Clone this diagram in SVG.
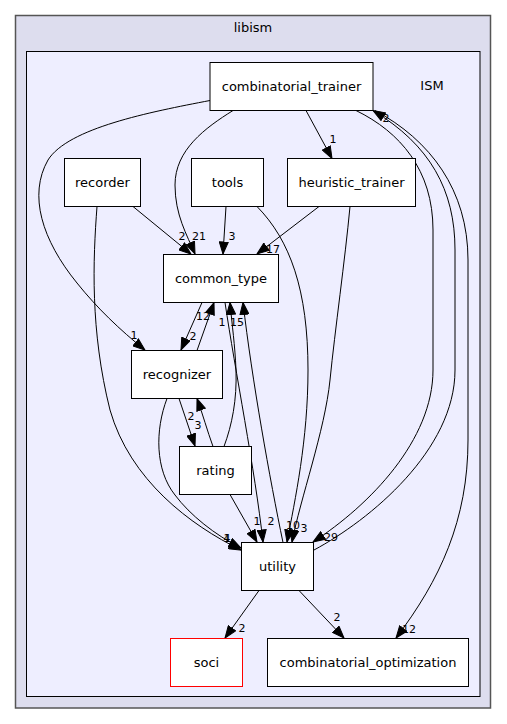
<svg xmlns="http://www.w3.org/2000/svg" width="507" height="724" viewBox="0 0 507 724">
<style>
.node rect{fill:#ffffff;stroke:#000000;stroke-width:1}
.node text{font-family:"DejaVu Sans",sans-serif;font-size:13px;text-anchor:middle;fill:#000}
.cl{font-family:"DejaVu Sans",sans-serif;font-size:13px;text-anchor:middle;fill:#000}
#edges path{fill:none;stroke:#000;stroke-width:1;marker-end:url(#ah)}
#edges text{font-family:"DejaVu Sans",sans-serif;font-size:11px;text-anchor:middle;fill:#000}
</style>
<defs>
<marker id="ah" markerUnits="userSpaceOnUse" markerWidth="13" markerHeight="10" viewBox="0 0 13 10" refX="12.5" refY="5" orient="auto">
<path d="M0.5,0.5 L12.5,5 L0.5,9.5 z" fill="#000" stroke="#000"/>
</marker>
</defs>
<rect width="507" height="724" fill="#ffffff"/>
<g id="cluster_libism">
<rect x="15.5" y="15.5" width="475" height="692.5" fill="#ddddee" stroke="#555555" stroke-width="1.5"/>
<text class="cl" x="253" y="32">libism</text>
</g>
<g id="cluster_ISM">
<rect x="26.5" y="51.5" width="453.5" height="645" fill="#eeeeff" stroke="#000000"/>
<text class="cl" x="432" y="90">ISM</text>
</g>
<g id="edges">
<path d="M210,100.5 C150,112 68,128 48,160 C28,195 42,240 77,283 C97,308 120,330 145,350"/>
<text x="134" y="339">1</text>
<path d="M233,110.5 C205,128 175,150 175,185 C175,215 187,235 195,254"/>
<text x="199" y="240">21</text>
<path d="M133,206.5 L191,254"/>
<text x="182" y="240">2</text>
<path d="M226,206.5 L223,254"/>
<text x="232" y="240">3</text>
<path d="M319,206.5 L257,254"/>
<text x="273" y="253">17</text>
<path d="M306,110.5 L332,158.5"/>
<text x="333" y="143">1</text>
<path d="M356,110.5 C400,132 433,170 433,230 L433,370 C433,440 370,505 313,542"/>
<text x="331" y="541">29</text>
<path d="M314,550 C370,520 455,450 455,370 L455,250 C455,190 430,145 373,110.5"/>
<text x="386" y="122">2</text>
<path d="M375,110.5 C430,140 468,190 468,260 L468,440 C468,520 440,580 396,638"/>
<text x="409" y="633">12</text>
<path d="M202,302.5 L181,350"/>
<text x="193" y="340">2</text>
<path d="M197,350.5 L214,302.5"/>
<text x="203" y="320">12</text>
<path d="M224,446.5 C232,425 237,400 236,370 C235,345 232,325 230,302.5"/>
<text x="222" y="326">1</text>
<path d="M283,542.5 C270,480 252,380 243,302.5"/>
<text x="237" y="326">15</text>
<path d="M225,302.5 C235,370 255,470 263,542"/>
<text x="271" y="525">2</text>
<path d="M230,494.5 L257,542"/>
<text x="257" y="525">1</text>
<path d="M257,206.5 C290,240 308,290 308,370 C308,440 295,500 287,542"/>
<text x="293" y="529">10</text>
<path d="M350,206.5 C345,260 335,330 330,380 C325,430 300,500 292,542"/>
<text x="304" y="532">3</text>
<path d="M97,206.5 C93,260 90,330 110,410 C130,480 190,525 241,550"/>
<text x="227" y="542">4</text>
<path d="M167,398.5 C155,430 155,470 175,495 C190,515 215,535 241,548"/>
<text x="227" y="542">1</text>
<path d="M179,398.5 L195,446"/>
<text x="198" y="429">3</text>
<path d="M213,446.5 C207,430 203,415 197,398.5"/>
<text x="191" y="420">2</text>
<path d="M259,590.5 L225,638"/>
<text x="242" y="632">2</text>
<path d="M299,590.5 L344,638"/>
<text x="337" y="621">2</text>
</g>
<g id="combinatorial_trainer" class="node"><rect x="210" y="62.5" width="163" height="48"/><text x="291.5" y="91">combinatorial_trainer</text></g>
<g id="recorder" class="node"><rect x="64.5" y="158.5" width="76" height="48"/><text x="102.5" y="187">recorder</text></g>
<g id="tools" class="node"><rect x="191.5" y="158.5" width="72" height="48"/><text x="227.5" y="187">tools</text></g>
<g id="heuristic_trainer" class="node"><rect x="287.5" y="158.5" width="128" height="48"/><text x="351.5" y="187">heuristic_trainer</text></g>
<g id="common_type" class="node"><rect x="163.5" y="254.5" width="115" height="48"/><text x="221" y="283">common_type</text></g>
<g id="recognizer" class="node"><rect x="131.5" y="350.5" width="91" height="48"/><text x="177" y="379">recognizer</text></g>
<g id="rating" class="node"><rect x="179.5" y="446.5" width="72" height="48"/><text x="215.5" y="475">rating</text></g>
<g id="utility" class="node"><rect x="241.5" y="542.5" width="72" height="48"/><text x="277.5" y="571">utility</text></g>
<g id="soci" class="node"><rect x="170.5" y="638.5" width="72" height="48" style="stroke:#ff0000"/><text x="206.5" y="667">soci</text></g>
<g id="combinatorial_optimization" class="node"><rect x="267.5" y="638.5" width="201" height="48"/><text x="368" y="667">combinatorial_optimization</text></g>
</svg>
